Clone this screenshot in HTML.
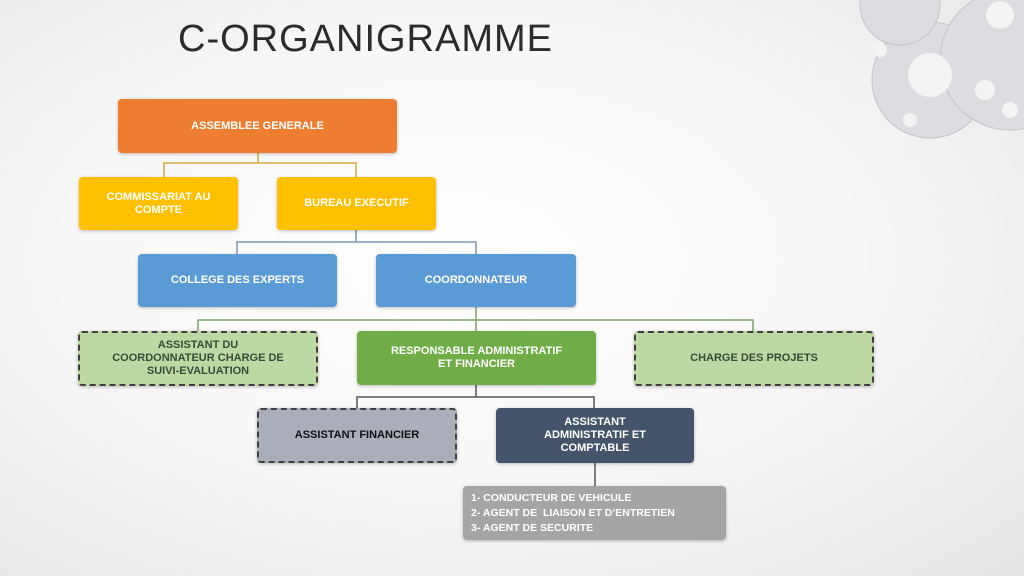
<!DOCTYPE html>
<html><head><meta charset="utf-8"><style>
body{margin:0;width:1024px;height:576px;overflow:hidden;position:relative;font-family:"Liberation Sans",sans-serif;
background:radial-gradient(ellipse at 45% 45%,#ffffff 0%,#f7f7f7 50%,#e6e6e6 100%);}
.b{position:absolute;display:flex;align-items:center;justify-content:center;text-align:center;color:#fff;font-weight:bold;font-size:11px;line-height:13px;border-radius:4px;box-sizing:border-box;box-shadow:0 1px 3px rgba(0,0,0,.25)}
.l{position:absolute}
.d{border:2px dashed #404040;color:#3a4a3a}
.t{position:absolute;left:178px;top:18px;font-size:38px;color:#2b2b2b;letter-spacing:1px}
</style></head><body>
<svg class="l" style="left:820px;top:0" width="204" height="150">
<g fill="#dcdde0" stroke="#c2c4c8">
<circle cx="110" cy="80" r="58"/><circle cx="190" cy="60" r="70"/><circle cx="80" cy="5" r="40"/>
</g>
<g fill="#f4f4f4"><circle cx="110" cy="75" r="22"/><circle cx="180" cy="15" r="14"/><circle cx="165" cy="90" r="10"/><circle cx="190" cy="110" r="8"/><circle cx="60" cy="50" r="7"/><circle cx="90" cy="120" r="7"/></g>
</svg>
<div class="t">C-ORGANIGRAMME</div>
<svg class="l" style="left:0;top:0" width="1024" height="576" fill="none" stroke-width="1.5">
<path d="M258 153V163M164 177V163H356V177" stroke="#d8a93a"/>
<path d="M356 230V242M237 254V242H476V254" stroke="#7a98b2"/>
<path d="M476 307V331M198 331V320H753V331" stroke="#7fa36a"/>
<path d="M476 385V397M357 408V397H594V408" stroke="#555"/>
<path d="M595 463V486" stroke="#555"/>
</svg>
<div class="b" style="left:118px;top:99px;width:279px;height:54px;background:#ED7D31">ASSEMBLEE GENERALE</div>
<div class="b" style="left:79px;top:177px;width:159px;height:53px;background:#FFC000">COMMISSARIAT AU<br>COMPTE</div>
<div class="b" style="left:277px;top:177px;width:159px;height:53px;background:#FFC000">BUREAU EXECUTIF</div>
<div class="b" style="left:138px;top:254px;width:199px;height:53px;background:#5B9BD5">COLLEGE DES EXPERTS</div>
<div class="b" style="left:376px;top:254px;width:200px;height:53px;background:#5B9BD5">COORDONNATEUR</div>
<div class="b d" style="left:78px;top:331px;width:240px;height:55px;background:#bcd9a3">ASSISTANT DU<br>COORDONNATEUR CHARGE DE<br>SUIVI-EVALUATION</div>
<div class="b" style="left:357px;top:331px;width:239px;height:54px;background:#70AD47">RESPONSABLE ADMINISTRATIF<br>ET FINANCIER</div>
<div class="b d" style="left:634px;top:331px;width:240px;height:55px;background:#bcd9a3">CHARGE DES PROJETS</div>
<div class="b d" style="left:257px;top:408px;width:200px;height:55px;background:#a9aeb8;color:#111">ASSISTANT FINANCIER</div>
<div class="b" style="left:496px;top:408px;width:198px;height:55px;background:#44546A">ASSISTANT<br>ADMINISTRATIF ET<br>COMPTABLE</div>
<div class="b" style="left:463px;top:486px;width:263px;height:54px;background:#a5a5a5;justify-content:flex-start;text-align:left;padding-left:8px;font-size:10.5px;line-height:15px">1- CONDUCTEUR DE VEHICULE<br>2- AGENT DE &nbsp;LIAISON ET D’ENTRETIEN<br>3- AGENT DE SECURITE</div>
</body></html>
